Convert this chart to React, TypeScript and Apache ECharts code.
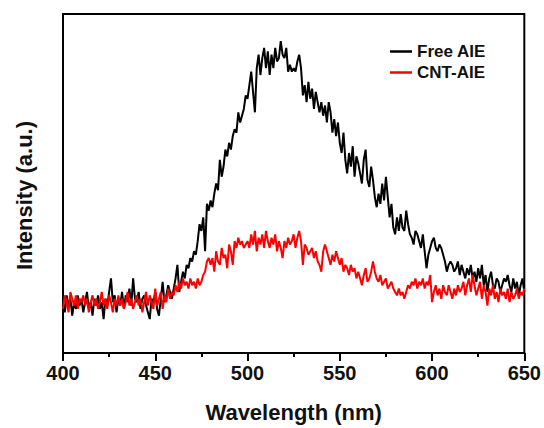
import React, { useEffect, useRef } from "react";
import * as echarts from "echarts";

const wavelengthStart = 400;
const wavelengthEnd = 650;

// Free AIE emission, 400–650 nm, 1 nm steps (arbitrary units)
const freeAIE = [
  15, 12, 17, 14, 16, 11, 15, 13, 17, 14,
  16, 12, 15, 18, 13, 15, 11, 16, 14, 17,
  13, 15, 10, 16, 14, 18, 22, 15, 17, 12,
  16, 14, 18, 13, 17, 15, 19, 14, 22, 16,
  15, 18, 13, 16, 17, 14, 12, 10, 16, 15,
  18, 13, 11, 16, 21, 15, 17, 20, 18, 16,
  19, 22, 26, 18, 21, 24, 22, 26, 25, 28,
  27, 30, 29, 33, 38, 36, 40, 30, 44, 42,
  45, 43, 47, 50, 48, 57, 52, 55, 60, 58,
  62, 60, 64, 66, 65, 71, 68, 70, 72, 76,
  75, 79, 83, 77, 71, 84, 88, 82, 87, 90,
  84, 89, 82, 88, 84, 90, 86, 87, 92, 88,
  87, 90, 83, 85, 83, 84, 83, 86, 88, 84,
  76, 79, 74, 80, 75, 78, 72, 77, 74, 71,
  74, 70, 73, 68, 74, 71, 65, 69, 64, 68,
  62, 59, 65, 57, 53, 59, 55, 61, 52, 58,
  56, 53, 50, 57, 60, 51, 49, 55, 51, 46,
  43, 47, 44, 50, 45, 52, 46, 40, 44, 37,
  35, 40, 36, 41, 37, 36, 42, 38, 35, 34,
  32, 36, 35, 33, 31, 35, 30, 25, 29, 31,
  33, 34, 31, 30, 32, 31, 29, 27, 24, 26,
  27, 26, 24, 25, 27, 23, 26, 24, 22, 25,
  23, 26, 22, 24, 21, 25, 22, 26, 20, 23,
  18, 22, 24, 20, 19, 22, 21, 18, 20, 22,
  21, 23, 20, 18, 22, 19, 21, 17, 20, 22,
  18,
];

// CNT-AIE emission, 400–650 nm, 1 nm steps (arbitrary units)
const cntAIE = [
  13, 17, 15, 12, 18, 16, 14, 17, 13, 16,
  15, 17, 14, 16, 12, 15, 17, 14, 16, 13,
  15, 18, 14, 16, 13, 17, 15, 12, 16, 14,
  17, 14, 16, 13, 15, 18, 14, 16, 13, 15,
  17, 14, 16, 12, 15, 18, 14, 17, 15, 13,
  19, 14, 16, 18, 13, 17, 15, 19, 16, 18,
  17, 20, 18, 21, 19, 22, 20, 21, 19, 22,
  20, 21, 19, 22, 20, 21, 23, 24, 27, 28,
  26, 28, 24, 30, 27, 26, 31, 28, 29, 25,
  32, 30, 26, 33, 31, 34, 32, 33, 31, 32,
  33, 31, 35, 32, 36, 30, 34, 32, 35, 31,
  36, 33, 31, 34, 32, 35, 30, 33, 31, 28,
  33, 31, 34, 32, 33, 35, 31, 34, 36, 33,
  26, 32, 31, 29, 30, 31, 28, 30, 27, 26,
  24, 30, 32, 30, 28, 26, 29, 27, 30, 28,
  26, 28, 24, 26, 25, 23, 26, 24, 25, 22,
  24, 22, 20, 23, 25, 21, 22, 24, 27, 24,
  22, 21, 23, 20, 21, 22, 19, 20, 21, 19,
  18, 17, 19, 17, 18, 16, 18, 20, 19, 21,
  20, 22, 19, 21, 20, 22, 19, 21, 20, 23,
  15, 18, 20, 17, 19, 16, 20, 18, 17, 20,
  18, 16, 19, 17, 20, 18, 19, 21, 17, 20,
  22, 18, 23, 20, 17, 19, 21, 16, 20, 18,
  14, 19, 17, 20, 16, 18, 15, 19, 17, 18,
  16, 19, 15, 18, 16, 17, 19, 16, 18, 17,
  19,
];

const seriesNames = ["Free AIE", "CNT-AIE"];
const seriesColors = ["#000000", "#ff0000"];

const FONT = "'Liberation Sans', Arial, Helvetica, sans-serif";

export default function App() {
  const ref = useRef<HTMLDivElement>(null);

  useEffect(() => {
    if (!ref.current) return;
    const chart = echarts.init(ref.current, undefined, { renderer: "svg" });
    const toPairs = (arr: number[]) =>
      arr.map((v, i) => [wavelengthStart + i, v]);

    chart.setOption({
      animation: false,
      backgroundColor: "#ffffff",
      grid: {
        left: 63,
        right: 19,
        top: 14,
        bottom: 73,
        show: true,
        borderColor: "#000",
        borderWidth: 2,
        backgroundColor: "transparent",
      },
      legend: {
        orient: "vertical",
        left: 390,
        top: 42,
        padding: 0,
        icon: "rect",
        itemWidth: 22,
        itemHeight: 2.5,
        itemGap: 2,
        data: seriesNames,
        textStyle: {
          fontFamily: FONT,
          fontWeight: "bold",
          fontSize: 17,
          color: "#111",
          lineHeight: 19,
        },
      },
      xAxis: [
        {
          type: "value",
          min: wavelengthStart,
          max: wavelengthEnd,
          interval: 50,
          name: "Wavelength (nm)",
          nameLocation: "middle",
          nameGap: 48,
          nameTextStyle: {
            fontFamily: FONT,
            fontWeight: "bold",
            fontSize: 22,
            color: "#111",
          },
          axisLine: { show: true, onZero: false, lineStyle: { color: "#000", width: 2 } },
          axisTick: { show: true, inside: false, length: 8, lineStyle: { color: "#000", width: 2 } },
          splitLine: { show: false },
          axisLabel: {
            margin: 10,
            fontFamily: FONT,
            fontWeight: "bold",
            fontSize: 20,
            color: "#111",
          },
        },
        {
          // minor ticks every 25 nm
          type: "value",
          position: "bottom",
          min: wavelengthStart,
          max: wavelengthEnd,
          interval: 25,
          axisLine: { show: false, onZero: false },
          axisTick: { show: true, inside: false, length: 4, lineStyle: { color: "#000", width: 2 } },
          axisLabel: { show: false },
          splitLine: { show: false },
        },
      ],
      yAxis: {
        type: "value",
        min: 0,
        max: 100,
        name: "Intensity (a.u.)",
        nameLocation: "middle",
        nameGap: 28,
        nameTextStyle: {
          fontFamily: FONT,
          fontWeight: "bold",
          fontSize: 22,
          color: "#111",
          padding: [0, 24, 0, 0],
        },
        axisLine: { show: true, lineStyle: { color: "#000", width: 2 } },
        axisTick: { show: false },
        axisLabel: { show: false },
        splitLine: { show: false },
      },
      series: [
        {
          name: seriesNames[0],
          type: "line",
          xAxisIndex: 0,
          data: toPairs(freeAIE),
          symbol: "none",
          lineStyle: { color: seriesColors[0], width: 2 },
          itemStyle: { color: seriesColors[0] },
          z: 2,
        },
        {
          name: seriesNames[1],
          type: "line",
          xAxisIndex: 0,
          data: toPairs(cntAIE),
          symbol: "none",
          lineStyle: { color: seriesColors[1], width: 2 },
          itemStyle: { color: seriesColors[1] },
          z: 3,
        },
      ],
    });
    return () => chart.dispose();
  }, []);

  return (
    <div
      ref={ref}
      style={{ position: "fixed", left: 0, top: 0, width: 544, height: 428, background: "#fff" }}
    />
  );
}
